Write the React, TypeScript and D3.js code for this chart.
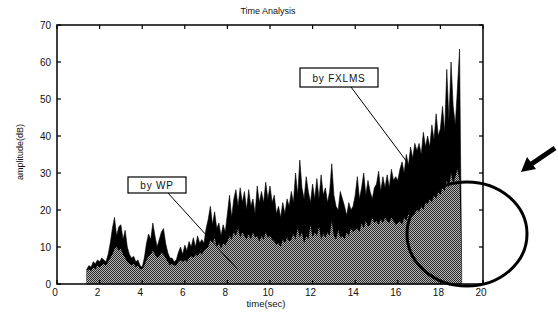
import React from "react";
import * as d3 from "d3";

const title = "Time Analysis";
const xLabel = "time(sec)";
const yLabel = "amplitude(dB)";
const xTicks = [0, 2, 4, 6, 8, 10, 12, 14, 16, 18, 20];
const yTicks = [0, 10, 20, 30, 40, 50, 60, 70];
const startTime = 1.4;
const sampleStep = 0.1;

// by FXLMS (black), 1.4 s .. 19.0 s every 0.1 s
const fxlms = [
  4, 5, 4.5, 6, 5.5, 6.5,
  6, 7, 6.5, 6, 8, 11, 15, 18, 13, 15.5,
  16, 12, 14.5, 10, 8, 7, 7.5, 6, 6.5, 5,
  4.5, 7, 11, 13.5, 12, 16.5, 13, 10, 12, 14,
  15, 11, 8.5, 7, 7, 6, 6.5, 8.5, 10, 8,
  10.5, 9, 11.5, 10, 12.5, 10, 13, 11, 12, 11,
  15, 17.5, 21, 16, 19.5, 15, 16.5, 13, 16, 14,
  19, 24, 18, 23, 25.5, 21, 26, 22, 25, 20,
  25.5, 21, 23, 19, 26.5, 22, 25, 22, 27.5, 23,
  26.5, 22, 24, 19, 21, 18, 22, 19, 23, 21,
  25, 22, 30, 24, 33.5, 26, 23, 29, 25, 22,
  27, 23, 28.5, 23, 29.5, 24, 26, 22, 25, 32.5,
  24, 21, 20, 25, 23, 21, 18.5, 22, 20, 21,
  24, 29, 23, 26, 30, 24, 28, 25, 23, 26,
  27, 30.5, 25, 29, 26, 29.5, 26, 31, 28, 29,
  28, 31, 33, 30, 35, 32, 37, 34, 38, 36,
  38, 35, 41, 37, 40, 37, 43, 39, 46, 40,
  42, 48, 41, 58, 44, 60, 48, 43, 53, 63.5,
  3,
];

// by WP (gray)
const wp = [
  3.5, 4, 3.5, 4.5, 4, 5,
  4.5, 5, 5.5, 5, 6, 7, 8, 9.5, 10, 9,
  9.5, 8, 7, 6, 5.5, 5, 5.5, 4.5, 5, 4,
  4, 5, 6.5, 7.5, 8, 9, 8, 7, 7.5, 8.5,
  8, 7, 6, 5, 5.5, 5, 5, 6, 6.5, 6,
  6.5, 6, 7, 7.5, 7, 8, 7.5, 8.5, 8, 9,
  9.5, 10, 12, 11, 12.5, 10, 11, 9.5, 11, 10.5,
  11.5, 13, 12, 14, 13, 15, 12.5, 14, 13, 12,
  13.5, 12, 14, 12.5, 13, 11.5, 13, 12, 14, 12.5,
  13, 12, 11.5, 10.5, 11, 10, 12, 11, 12.5, 11.5,
  12, 13.5, 12, 15, 12.5, 14, 11, 13, 12, 16,
  12.5, 14, 13, 15.5, 12, 13.5, 12.5, 14, 13, 17,
  13, 12, 14.5, 12.5, 13, 12, 14, 13, 15, 14,
  14.5, 15, 14, 16.5, 15, 17, 15.5, 16, 18, 16.5,
  17, 16, 17.5, 16.5, 18, 17, 16.5, 18, 17, 16,
  16.5, 17, 16, 18, 17, 19, 17.5, 18.5, 19, 20,
  19.5, 21, 20, 22, 21.5, 23, 22, 24, 23, 25,
  24, 26, 25, 28, 26, 30, 27, 29, 31, 28,
  3,
];

export default function App() {
  const W = 558, H = 313;
  const x = d3.scaleLinear().domain([0, 20]).range([57, 483]);
  const y = d3.scaleLinear().domain([0, 70]).range([284, 25]);
  const t = (i: number) => startTime + i * sampleStep;
  const area = d3
    .area<number>()
    .x((_, i) => x(t(i)))
    .y0(y(0))
    .y1((d) => y(d))
    .curve(d3.curveLinear);
  const font = "'Liberation Sans', Arial, sans-serif";

  return (
    <svg width={W} height={H} style={{ position: "absolute", left: 0, top: 0, background: "#fff" }}>
      <defs>
        <pattern id="dither" width={2} height={2} patternUnits="userSpaceOnUse">
          <rect width={2} height={2} fill="#b4b4b4" />
          <rect x={0} y={0} width={1} height={1} fill="#2a2a2a" />
          <rect x={1} y={1} width={1} height={1} fill="#2a2a2a" />
        </pattern>
      </defs>
      <rect width={W} height={H} fill="#fff" />
      <path d={area(fxlms) || ""} fill="#000" stroke="#000" strokeWidth={0.6} />
      <path d={area(wp) || ""} fill="url(#dither)" />
      {/* frame */}
      <rect x={x(0)} y={y(70)} width={x(20) - x(0)} height={y(0) - y(70)} fill="none" stroke="#000" strokeWidth={1.5} />
      {xTicks.map((v) => (
        <g key={"x" + v}>
          <line x1={x(v)} x2={x(v)} y1={y(70)} y2={y(70) + 4} stroke="#000" strokeWidth={1.2} />
          <line x1={x(v)} x2={x(v)} y1={y(0)} y2={y(0) - 4} stroke="#000" strokeWidth={1.2} />
          <text x={x(v) - 2} y={y(0) + 11.5} fontSize={10} fontFamily={font} textAnchor="middle" fill="#111">
            {v}
          </text>
        </g>
      ))}
      {yTicks.map((v) => (
        <g key={"y" + v}>
          <line x1={x(0)} x2={x(0) + 4} y1={y(v)} y2={y(v)} stroke="#000" strokeWidth={1.2} />
          <line x1={x(20)} x2={x(20) - 4} y1={y(v)} y2={y(v)} stroke="#000" strokeWidth={1.2} />
          <text x={x(0) - 6} y={y(v) + 3.5} fontSize={10} fontFamily={font} textAnchor="end" fill="#111">
            {v}
          </text>
        </g>
      ))}
      <text x={268} y={14} fontSize={9} fontFamily={font} textAnchor="middle" fill="#111">
        {title}
      </text>
      <text x={266} y={307} fontSize={9.5} fontFamily={font} textAnchor="middle" fill="#111">
        {xLabel}
      </text>
      <text transform="translate(23,152) rotate(-90)" fontSize={9} fontFamily={font} textAnchor="middle" fill="#111">
        {yLabel}
      </text>
      {/* annotations */}
      <line x1={351} y1={87} x2={407} y2={162} stroke="#000" strokeWidth={1} />
      <rect x={300} y={68} width={78} height={19} fill="#fff" stroke="#000" strokeWidth={1.2} />
      <text x={339} y={81.5} fontSize={10} fontFamily={font} textAnchor="middle" fill="#111" letterSpacing={0.8}>
        by  FXLMS
      </text>
      <line x1={168} y1={193} x2={238} y2={270} stroke="#000" strokeWidth={1} />
      <rect x={128} y={177} width={58} height={16} fill="#fff" stroke="#000" strokeWidth={1.2} />
      <text x={157} y={189} fontSize={10} fontFamily={font} textAnchor="middle" fill="#111" letterSpacing={0.8}>
        by  WP
      </text>
      <ellipse cx={467} cy={234} rx={60} ry={52} fill="none" stroke="#000" strokeWidth={3} />
      <line x1={555} y1={148} x2={530} y2={165} stroke="#000" strokeWidth={5} />
      <path d="M521,172 L527,157 L536,169 Z" fill="#000" />
    </svg>
  );
}
